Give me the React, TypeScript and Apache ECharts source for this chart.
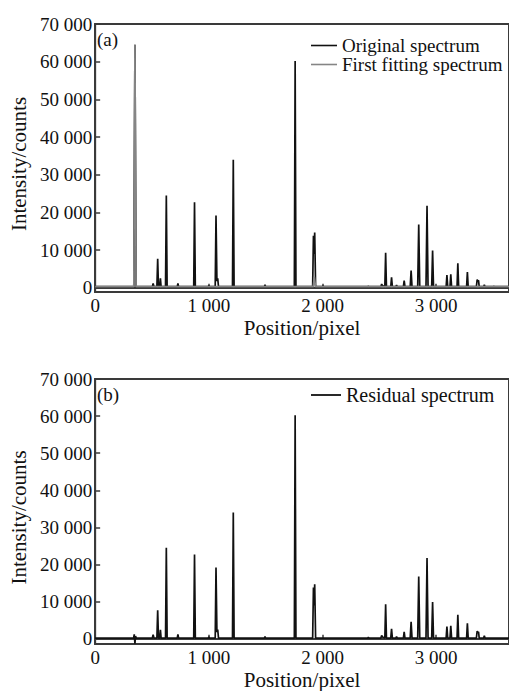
import React, { useEffect, useRef } from "react";
import * as echarts from "echarts";

// Spectrum samples: [position (pixel), intensity (counts)]
const originalSpectrum: [number, number][] = [
  [0, 300], [340, 300], [350, 64500], [360, 300],
  [503, 300], [510, 1200], [517, 300],
  [543, 300], [550, 7700], [557, 300],
  [568, 300], [574, 2500], [580, 300],
  [619, 300], [626, 24500], [633, 300],
  [722, 300], [728, 1200], [734, 300],
  [867, 300], [874, 22700], [881, 300],
  [995, 300], [1000, 700], [1005, 300],
  [1056, 300], [1063, 19200], [1071, 1800], [1078, 2500], [1085, 300],
  [1208, 300], [1215, 34000], [1222, 300],
  [1489, 300], [1494, 800], [1499, 300],
  [1752, 300], [1759, 60200], [1766, 300],
  [1913, 300], [1920, 13800], [1925, 9000], [1931, 14700], [1939, 300],
  [1999, 300], [2004, 600], [2009, 300],
  [2397, 300], [2403, 500], [2409, 300],
  [2513, 300], [2520, 1000], [2527, 600],
  [2548, 300], [2555, 9300], [2562, 300],
  [2600, 300], [2607, 2800], [2614, 300],
  [2645, 300], [2651, 700], [2657, 300],
  [2711, 300], [2718, 1900], [2725, 300],
  [2771, 300], [2779, 4600], [2787, 300],
  [2837, 300], [2846, 16800], [2855, 300],
  [2910, 300], [2919, 21800], [2928, 300], [2960, 300], [2968, 9900], [2976, 300],
  [3087, 300], [3094, 3400], [3101, 300], [3121, 300], [3128, 3600], [3135, 300],
  [3183, 300], [3190, 6500], [3197, 300],
  [3267, 300], [3274, 4200], [3281, 300],
  [3353, 300], [3360, 2200], [3366, 1800], [3372, 2000], [3378, 300],
  [3417, 300], [3423, 800], [3429, 300],
  [3501, 300], [3507, 400], [3513, 300],
  [3640, 300],
];

const firstFittingSpectrum: [number, number][] = [
  [0, 300], [340, 300], [350, 64500], [360, 300],
  [1918, 300], [1928, 2900], [1938, 300],
  [3640, 300],
];

const residualSpectrum: [number, number][] = [
  [0, 200], [338, 200], [344, 1200], [350, -1300], [355, 700], [362, 200],
  [503, 200], [510, 1100], [517, 200],
  [543, 200], [550, 7700], [557, 200],
  [568, 200], [574, 2400], [580, 200],
  [619, 200], [626, 24500], [633, 200],
  [722, 200], [728, 1200], [734, 200],
  [867, 200], [874, 22700], [881, 200],
  [995, 200], [1000, 500], [1005, 200],
  [1056, 200], [1063, 19200], [1071, 1800], [1078, 2500], [1085, 200],
  [1208, 200], [1215, 34000], [1222, 200],
  [1489, 200], [1494, 600], [1499, 200],
  [1752, 200], [1759, 60200], [1766, 200],
  [1913, 200], [1920, 13800], [1925, 9000], [1931, 14700], [1939, 200],
  [2397, 200], [2403, 400], [2409, 200],
  [2513, 200], [2520, 900], [2527, 500],
  [2548, 200], [2555, 9300], [2562, 200],
  [2600, 200], [2607, 2700], [2614, 200],
  [2645, 200], [2651, 600], [2657, 200],
  [2711, 200], [2718, 1900], [2725, 200],
  [2771, 200], [2779, 4600], [2787, 200],
  [2837, 200], [2846, 16800], [2855, 200],
  [2910, 200], [2919, 21800], [2928, 200], [2960, 200], [2968, 9900], [2976, 200],
  [3087, 200], [3094, 3300], [3101, 200], [3121, 200], [3128, 3500], [3135, 200],
  [3183, 200], [3190, 6500], [3197, 200],
  [3267, 200], [3274, 4200], [3281, 200],
  [3353, 200], [3360, 2100], [3366, 1700], [3372, 1900], [3378, 200],
  [3417, 200], [3423, 800], [3429, 200],
  [3640, 200],
];

const yTickValues = [0, 10000, 20000, 30000, 40000, 50000, 60000, 70000];
const xTickValues = [0, 1000, 2000, 3000];

const seriesNames = ["Original spectrum", "First fitting spectrum", "Residual spectrum"];
const panelLabels = ["(a)", "(b)"];
const xAxisName = "Position/pixel";
const yAxisName = "Intensity/counts";

const FONT = "Liberation Serif";
const INK = "#111";
const FRAME = "#3a3a3a";

const fmt = (v: number) => {
  const s = String(Math.round(v));
  return s.replace(/\B(?=(\d{3})+(?!\d))/g, " ");
};

export default function App() {
  const ref = useRef<HTMLDivElement>(null);

  useEffect(() => {
    if (!ref.current) return;
    const chart = echarts.init(ref.current, null, { renderer: "svg" });

    const xAxisBase = (gridIndex: number) => ({
      type: "value",
      gridIndex,
      min: 0,
      max: 3640,
      interval: 1000,
      name: xAxisName,
      nameLocation: "middle",
      nameGap: 25,
      nameTextStyle: { fontFamily: FONT, fontSize: 21, color: INK },
      axisLine: { show: true, lineStyle: { color: FRAME, width: 2 } },
      axisTick: {
        show: true,
        inside: true,
        length: 4,
        customValues: xTickValues,
        lineStyle: { color: FRAME, width: 1.5 },
      },
      axisLabel: {
        customValues: xTickValues,
        formatter: fmt,
        fontFamily: FONT,
        fontSize: 19,
        color: INK,
        margin: 4,
      },
      splitLine: { show: false },
    });

    const yAxisBase = (gridIndex: number, min: number) => ({
      type: "value",
      gridIndex,
      min,
      max: 70000,
      name: yAxisName,
      nameLocation: "middle",
      nameGap: 62,
      nameTextStyle: {
        fontFamily: FONT,
        fontSize: 21,
        color: INK,
        padding: [0, 12, 0, 0],
      },
      axisLine: { show: true, lineStyle: { color: FRAME, width: 2 } },
      axisTick: {
        show: true,
        inside: true,
        length: 5,
        customValues: yTickValues,
        lineStyle: { color: FRAME, width: 1.5 },
      },
      axisLabel: {
        customValues: yTickValues,
        formatter: fmt,
        fontFamily: FONT,
        fontSize: 19,
        color: INK,
        margin: 3,
      },
      splitLine: { show: false },
    });

    const option = {
      animation: false,
      backgroundColor: "#fff",
      title: [
        {
          text: panelLabels[0],
          left: 97,
          top: 30,
          padding: 0,
          textStyle: { fontFamily: FONT, fontSize: 19, fontWeight: "normal", color: INK },
        },
        {
          text: panelLabels[1],
          left: 97,
          top: 385,
          padding: 0,
          textStyle: { fontFamily: FONT, fontSize: 19, fontWeight: "normal", color: INK },
        },
      ],
      legend: [
        {
          orient: "vertical",
          left: 311,
          top: 36,
          padding: 0,
          icon: "rect",
          itemWidth: 26,
          itemHeight: 1.6,
          itemGap: 0,
          data: [seriesNames[0], seriesNames[1]],
          textStyle: { fontFamily: FONT, fontSize: 19, color: INK, lineHeight: 19 },
        },
        {
          orient: "vertical",
          left: 311,
          top: 385,
          padding: 0,
          icon: "rect",
          itemWidth: 30,
          itemHeight: 1.8,
          itemGap: 0,
          data: [seriesNames[2]],
          textStyle: { fontFamily: FONT, fontSize: 20, color: INK, lineHeight: 20 },
        },
      ],
      grid: [
        {
          left: 93,
          top: 24,
          right: -3,
          height: 268,
          show: true,
          borderColor: FRAME,
          borderWidth: 2,
          backgroundColor: "transparent",
        },
        {
          left: 93,
          top: 379,
          right: -3,
          height: 265,
          show: true,
          borderColor: FRAME,
          borderWidth: 2,
          backgroundColor: "transparent",
        },
      ],
      xAxis: [xAxisBase(0), xAxisBase(1)],
      yAxis: [yAxisBase(0, -1100), yAxisBase(1, -1400)],
      series: [
        {
          name: seriesNames[0],
          type: "line",
          xAxisIndex: 0,
          yAxisIndex: 0,
          data: originalSpectrum,
          symbol: "none",
          lineStyle: { color: "#111", width: 1.7 },
          itemStyle: { color: "#111" },
          z: 2,
        },
        {
          name: seriesNames[1],
          type: "line",
          xAxisIndex: 0,
          yAxisIndex: 0,
          data: firstFittingSpectrum,
          symbol: "none",
          lineStyle: { color: "#858585", width: 1.7 },
          itemStyle: { color: "#858585" },
          z: 3,
        },
        {
          name: seriesNames[2],
          type: "line",
          xAxisIndex: 1,
          yAxisIndex: 1,
          data: residualSpectrum,
          symbol: "none",
          lineStyle: { color: "#111", width: 1.7 },
          itemStyle: { color: "#111" },
          z: 2,
        },
      ],
    };

    chart.setOption(option as any);
    return () => chart.dispose();
  }, []);

  return (
    <div
      ref={ref}
      style={{ position: "fixed", left: 0, top: 0, width: 509, height: 691, background: "#fff" }}
    />
  );
}
